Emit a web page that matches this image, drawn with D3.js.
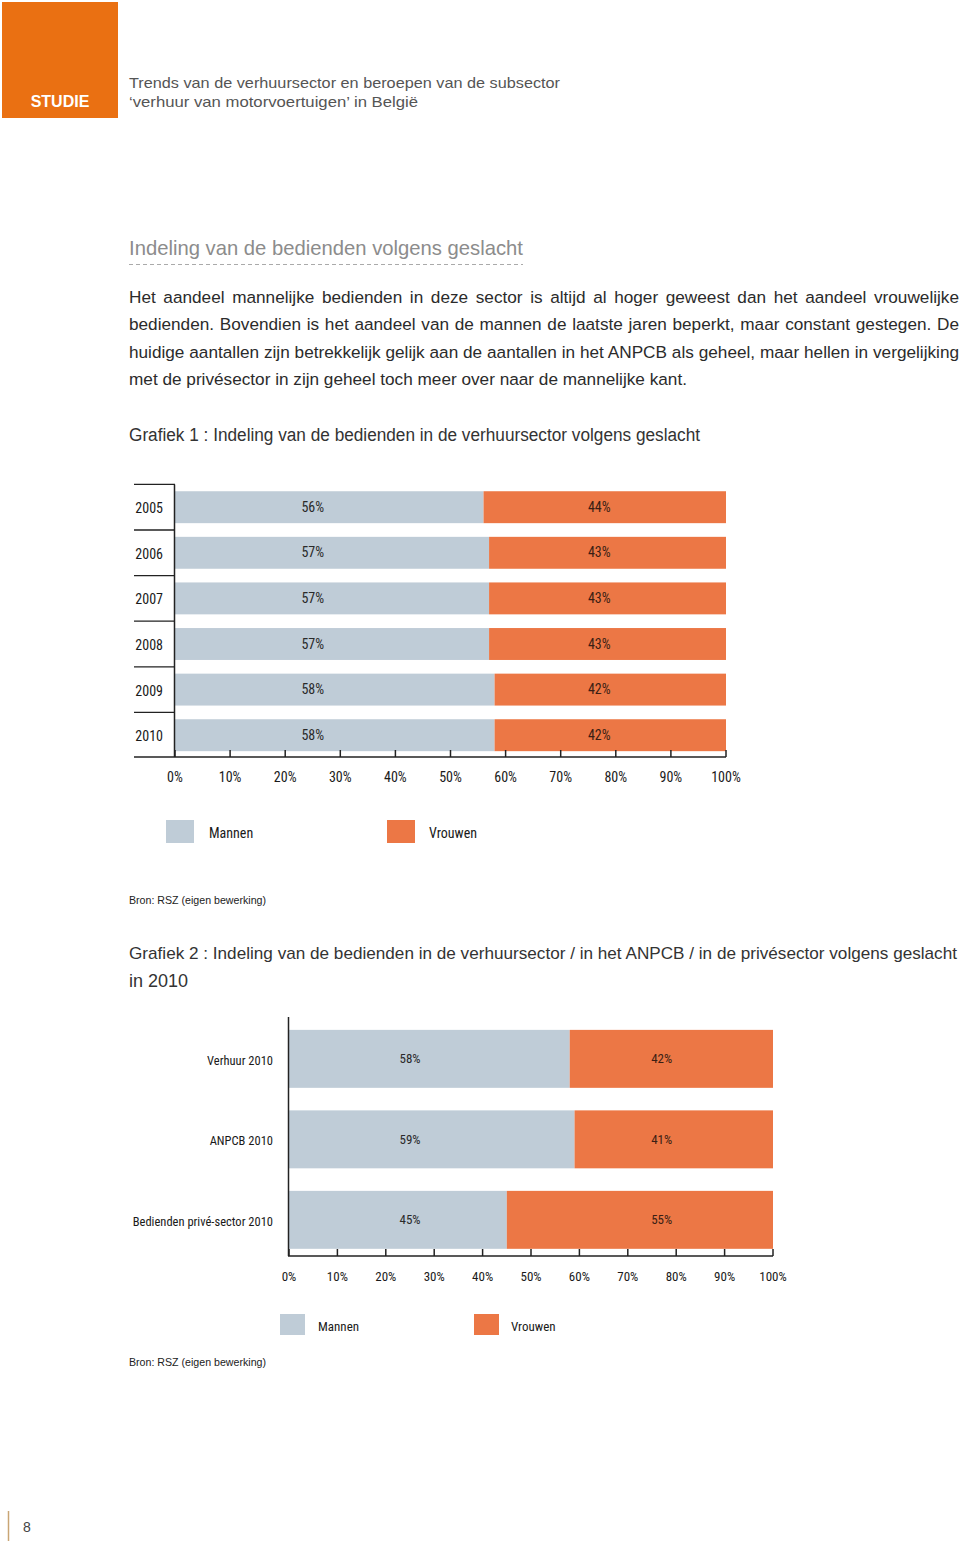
<!DOCTYPE html>
<html><head><meta charset="utf-8">
<script src="https://cdn.jsdelivr.net/npm/d3@7"></script>
<style>
html,body{margin:0;padding:0;background:#fff;}
#page{position:relative;width:960px;height:1545px;overflow:hidden;font-family:"Liberation Sans",Arial,sans-serif;}
svg{position:absolute;left:0;top:0;}
.para{position:absolute;left:129px;width:830px;font-size:17.2px;line-height:27.3px;color:#2b2b2b;}
.para div{white-space:nowrap;}
.para div.last{text-align-last:left;}
.jl{display:block;text-align:justify;text-align-last:justify;}
</style></head>
<body><div id="page">
<svg id="svg" width="960" height="1545"></svg>
<div class="para" id="p1" style="top:284px;">
<div class="jl">Het aandeel mannelijke bedienden in deze sector is altijd al hoger geweest dan het aandeel vrouwelijke</div>
<div class="jl">bedienden. Bovendien is het aandeel van de mannen de laatste jaren beperkt, maar constant gestegen. De</div>
<div class="jl">huidige aantallen zijn betrekkelijk gelijk aan de aantallen in het ANPCB als geheel, maar hellen in vergelijking</div>
<div class="last">met de privésector in zijn geheel toch meer over naar de mannelijke kant.</div>
</div>
</div>
<script>
// ---- data ----
const years = ["2005","2006","2007","2008","2009","2010"];
const menShare1 = [56,57,57,57,58,58];
const womenShare1 = [44,43,43,43,42,42];
const categories2 = ["Verhuur 2010","ANPCB 2010","Bedienden privé-sector 2010"];
const menShare2 = [58,59,45];
const womenShare2 = [42,41,55];
const tickValues = [0,10,20,30,40,50,60,70,80,90,100];
const seriesNames = ["Mannen","Vrouwen"];
const seriesColors = ["#bfccd7","#ec7745"];

const svg = d3.select("#svg");
const narrow = '"Liberation Sans Narrow","Arial Narrow","Roboto Condensed",sans-serif';

function fitText(x,y,str,len,size,fill,extra){
  const t = svg.append("text").attr("x",x).attr("y",y).attr("fill",fill).attr("font-size",size).text(str);
  if(len) t.attr("textLength",len).attr("lengthAdjust","spacingAndGlyphs");
  if(extra) extra(t);
  return t;
}

// header
svg.append("rect").attr("x",2).attr("y",2).attr("width",116).attr("height",116).attr("fill","#ea7012");
svg.append("text").attr("x",60).attr("y",107).attr("text-anchor","middle").attr("fill","#fff")
  .attr("font-size",16).attr("font-weight","bold").attr("font-family","Liberation Sans, Arial, sans-serif").text("STUDIE");
fitText(129,88,"Trends van de verhuursector en beroepen van de subsector",431,15,"#555");
fitText(129,107,"‘verhuur van motorvoertuigen’ in België",289,15,"#555");

// section heading
fitText(129,255,"Indeling van de bedienden volgens geslacht",394,21,"#8c8c8c");
svg.append("line").attr("x1",129).attr("x2",523).attr("y1",264.5).attr("y2",264.5)
  .attr("stroke","#aaa").attr("stroke-width",1).attr("stroke-dasharray","4,3");

fitText(129,441,"Grafiek 1 : Indeling van de bedienden in de verhuursector volgens geslacht",571,18,"#333");
fitText(129,959,"Grafiek 2 : Indeling van de bedienden in de verhuursector / in het ANPCB / in de privésector volgens geslacht",828,17,"#333");
fitText(129,987,"in 2010",null,18,"#333");

function drawChart(opts){
  const {cats, men, women, x0, x1, yTop, yBot, axisY, pi, po, labelX, labelAnchor, separators, axisLeft, fs, cfs} = opts;
  const x = d3.scaleLinear().domain([0,100]).range([x0,x1]);
  const y = d3.scaleBand().domain(cats).range([yTop,yBot]).paddingInner(pi).paddingOuter(po);
  const g = svg.append("g");
  const stacked = cats.map((c,i)=>({c, parts:[{s:0,v:men[i],k:0},{s:men[i],v:women[i],k:1}]}));
  stacked.forEach(d=>{
    d.parts.forEach(p=>{
      g.append("rect").attr("x",x(p.s)).attr("y",y(d.c)).attr("width",x(p.s+p.v)-x(p.s))
        .attr("height",y.bandwidth()).attr("fill",seriesColors[p.k]);
      g.append("text").attr("x",x(p.k===0?25:77)).attr("y",y(d.c)+y.bandwidth()/2+4.5)
        .attr("text-anchor","middle").attr("font-family",narrow).attr("font-size",fs)
        .attr("fill",p.k===0?"#2a2a2a":"#3a1e14").text(p.v+"%");
    });
    g.append("text").attr("x",labelX).attr("y",y(d.c)+y.bandwidth()/2+6).attr("text-anchor",labelAnchor)
      .attr("font-family",narrow).attr("font-size",cfs).attr("fill","#1a1a1a").text(d.c);
  });
  const step = y.step();
  if(separators){
    cats.forEach(c=>{
      const yy = y(c) - step*pi/2;
      g.append("line").attr("x1",axisLeft).attr("x2",x0).attr("y1",yy).attr("y2",yy).attr("stroke","#222").attr("stroke-width",1.3);
    });
  }
  const topY = separators ? y(cats[0]) - step*pi/2 : yTop;
  g.append("line").attr("x1",x0-0.5).attr("x2",x0-0.5).attr("y1",topY).attr("y2",axisY).attr("stroke","#222").attr("stroke-width",1.5);
  g.append("line").attr("x1",axisLeft).attr("x2",x1).attr("y1",axisY).attr("y2",axisY).attr("stroke","#222").attr("stroke-width",1.5);
  tickValues.forEach(t=>{
    g.append("line").attr("x1",x(t)).attr("x2",x(t)).attr("y1",axisY).attr("y2",axisY-7).attr("stroke","#222").attr("stroke-width",1.5);
    g.append("text").attr("x",x(t)).attr("y",axisY+25).attr("text-anchor","middle").attr("font-family",narrow)
      .attr("font-size",fs).attr("fill","#1a1a1a").text(t+"%");
  });
}

drawChart({cats:years, men:menShare1, women:womenShare1, x0:175, x1:726, yTop:484.4, yBot:758, axisY:757,
  pi:0.3, po:0.15, labelX:163, labelAnchor:"end", separators:true, axisLeft:134, fs:14, cfs:14});

function legend(items){
  items.forEach(it=>{
    svg.append("rect").attr("x",it.x).attr("y",it.y).attr("width",it.w).attr("height",it.h).attr("fill",seriesColors[it.k]);
    svg.append("text").attr("x",it.tx).attr("y",it.y+it.h/2+6).attr("font-family",narrow).attr("font-size",it.fs)
      .attr("fill","#1a1a1a").text(seriesNames[it.k]);
  });
}
legend([{k:0,x:166,y:820,w:28,h:23,tx:209,fs:14},{k:1,x:387,y:820,w:28,h:23,tx:429,fs:14}]);
fitText(129,904,"Bron: RSZ (eigen bewerking)",137,11.5,"#222");

drawChart({cats:categories2, men:menShare2, women:womenShare2, x0:289, x1:773, yTop:1017, yBot:1261.7, axisY:1256,
  pi:0.28, po:0.16, labelX:273, labelAnchor:"end", separators:false, axisLeft:288, fs:13, cfs:12.5});
legend([{k:0,x:280,y:1314,w:25,h:21,tx:318,fs:13},{k:1,x:474,y:1314,w:25,h:21,tx:511,fs:13}]);
fitText(129,1366,"Bron: RSZ (eigen bewerking)",137,11.5,"#222");

// page number
svg.append("line").attr("x1",8.5).attr("x2",8.5).attr("y1",1511).attr("y2",1541).attr("stroke","#c9a574").attr("stroke-width",1.5);
svg.append("text").attr("x",23).attr("y",1532).attr("font-size",14).attr("fill","#444").text("8");
</script>
</body></html>
